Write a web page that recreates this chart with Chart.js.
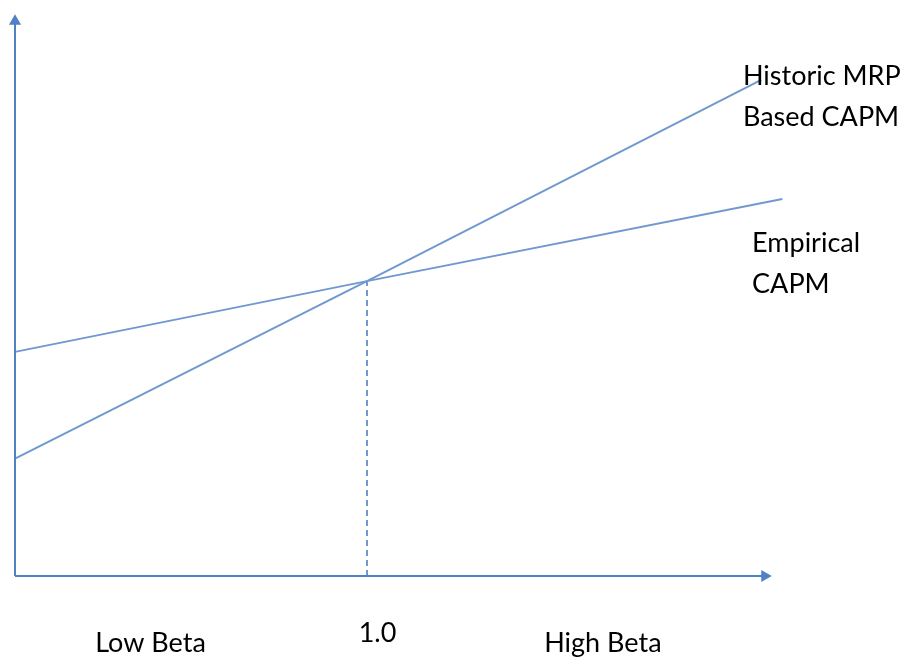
<!DOCTYPE html>
<html>
<head>
<meta charset="utf-8">
<script src="https://cdn.jsdelivr.net/npm/chart.js@4"></script>
<style>
  body { margin: 0; background: #fff; }
  canvas { display: block; }
</style>
</head>
<body>
<canvas id="capmChart" width="909" height="657"></canvas>
<script>
// Beta (x) and expected return (y) values
const historicBeta = [0, 1, 2.12];
const historicReturn = [4.15, 10.42, 17.53];
const empiricalBeta = [0, 1, 2.18];
const empiricalReturn = [7.92, 10.42, 13.32];

// Axis arrows and the dashed beta = 1 marker
const xAxisBeta = [0, 2.13];
const yAxisReturn = [0, 19.6];
const markerBeta = 1;
const markerReturn = 10.42;

// Text under the x axis
const betaLabels = ['Low Beta', '1.0', 'High Beta'];
const betaLabelPos = [0.385, 1.03, 1.67];

// Line labels, placed at (beta, return)
const lineLabels = [['Historic MRP', 'Based CAPM'], ['Empirical', 'CAPM']];
const lineLabelBeta = [2.068, 2.094];
const lineLabelReturn = [17.65, 11.75];

const lineColor = '#7199cf';
const axisColor = '#4f81c4';

function toPoints(xs, ys) {
  return xs.map((x, i) => ({ x: x, y: ys[i] }));
}

// Draws the text labels using the chart's own scales
const labelPlugin = {
  id: 'capmLabels',
  afterDraw(chart) {
    const ctx = chart.ctx;
    const xs = chart.scales.x;
    const ys = chart.scales.y;
    ctx.save();
    ctx.fillStyle = '#000';
    ctx.font = '27px Lato, "Open Sans", sans-serif';
    ctx.textBaseline = 'middle';

    ctx.textAlign = 'center';
    betaLabels.forEach((label, i) => {
      const yPix = ys.bottom + (label === '1.0' ? 57 : 67);
      ctx.fillText(label, xs.getPixelForValue(betaLabelPos[i]), yPix);
    });

    ctx.textAlign = 'left';
    lineLabels.forEach((lines, i) => {
      const x = xs.getPixelForValue(lineLabelBeta[i]);
      const y = ys.getPixelForValue(lineLabelReturn[i]);
      lines.forEach((text, j) => {
        ctx.fillText(text, x, y + j * 41);
      });
    });
    ctx.restore();
  }
};

const ctx = document.getElementById('capmChart').getContext('2d');
new Chart(ctx, {
  type: 'scatter',
  data: {
    datasets: [
      {
        label: 'x axis',
        data: toPoints(xAxisBeta, [0, 0]),
        showLine: true,
        borderColor: axisColor,
        backgroundColor: axisColor,
        borderWidth: 2,
        pointStyle: 'triangle',
        pointRadius: [0, 7],
        pointRotation: [0, 90],
        pointBorderWidth: 0,
      },
      {
        label: 'y axis',
        data: toPoints([0, 0], yAxisReturn),
        showLine: true,
        borderColor: axisColor,
        backgroundColor: axisColor,
        borderWidth: 2,
        pointStyle: 'triangle',
        pointRadius: [0, 7],
        pointBorderWidth: 0,
      },
      {
        label: 'Historic MRP Based CAPM',
        data: toPoints(historicBeta, historicReturn),
        showLine: true,
        borderColor: lineColor,
        borderWidth: 2,
        pointRadius: 0,
      },
      {
        label: 'Empirical CAPM',
        data: toPoints(empiricalBeta, empiricalReturn),
        showLine: true,
        borderColor: lineColor,
        borderWidth: 2,
        pointRadius: 0,
      },
      {
        label: 'Beta 1.0',
        data: toPoints([markerBeta, markerBeta], [0, markerReturn]),
        showLine: true,
        borderColor: lineColor,
        borderWidth: 2,
        borderDash: [6, 4],
        pointRadius: 0,
      },
    ],
  },
  options: {
    responsive: false,
    animation: false,
    clip: false,
    layout: {
      padding: { left: 15, top: 10, right: 14, bottom: 81 },
    },
    plugins: {
      legend: { display: false },
      tooltip: { enabled: false },
    },
    scales: {
      x: { type: 'linear', min: 0, max: 2.5, display: false },
      y: { type: 'linear', min: 0, max: 20, display: false },
    },
  },
  plugins: [labelPlugin],
});
</script>
</body>
</html>
